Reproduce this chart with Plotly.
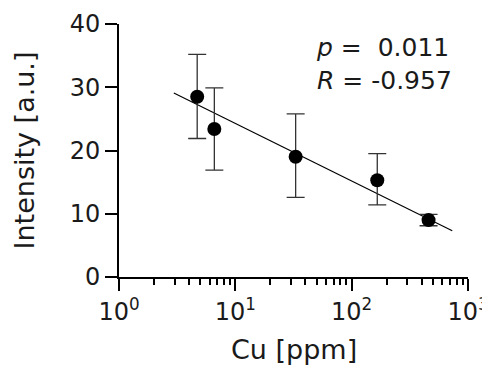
import plotly.graph_objects as go

# Data
cu_ppm = [4.7, 6.6, 33, 166, 458]
intensity = [28.5, 23.4, 19.0, 15.3, 9.0]
err_plus = [6.7, 6.5, 6.8, 4.2, 0.9]
err_minus = [6.6, 6.5, 6.4, 3.9, 0.9]

fit_x = [2.96, 732]
fit_y = [29.1, 7.3]

x_tickvals = [1, 10, 100, 1000]
x_ticktext = ["10<sup>0</sup>", "10<sup>1</sup>", "10<sup>2</sup>", "10<sup>3</sup>"]
x_minor = [m * d for d in (1, 10, 100) for m in range(2, 10)]
y_tickvals = [0, 10, 20, 30, 40]

stats_text = "<i>p</i> =\u00a0\u00a00.011<br><i>R</i> = -0.957"

FONT = "DejaVu Sans"
TXT = "#1a1a1a"

fig = go.Figure()
fig.add_trace(go.Scatter(
    x=fit_x, y=fit_y, mode="lines",
    line=dict(color="black", width=1.2),
    showlegend=False, hoverinfo="skip",
))
fig.add_trace(go.Scatter(
    x=cu_ppm, y=intensity, mode="markers",
    marker=dict(color="black", size=14),
    error_y=dict(type="data", symmetric=False, array=err_plus, arrayminus=err_minus,
                 color="#333333", thickness=1.3, width=9),
    showlegend=False,
))

# page body adds an 8px margin, so the figure is 8px smaller and margins shifted
fig.update_layout(
    width=482, height=363,
    margin=dict(l=111, r=22, t=16, b=94, autoexpand=False),
    plot_bgcolor="white", paper_bgcolor="white",
    font=dict(family=FONT, color=TXT, size=22),
    xaxis=dict(
        type="log", range=[0, 3], automargin=False,
        tickmode="array", tickvals=x_tickvals, ticktext=x_ticktext,
        ticks="outside", ticklen=12, tickwidth=2, tickcolor="black",
        showline=True, linewidth=2, linecolor="black",
        showgrid=False, zeroline=False,
        tickfont=dict(size=24, family=FONT, color=TXT),
        minor=dict(tickmode="array", tickvals=x_minor, ticks="outside",
                   ticklen=6, tickwidth=2, tickcolor="black", showgrid=False),
    ),
    yaxis=dict(
        range=[0, 40], automargin=False,
        tickmode="array", tickvals=y_tickvals,
        ticks="outside", ticklen=12, tickwidth=2, tickcolor="black",
        showline=True, linewidth=2, linecolor="black",
        showgrid=False, zeroline=False,
        tickfont=dict(size=24, family=FONT, color=TXT),
    ),
    annotations=[
        dict(text="Intensity [a.u.]", xref="paper", yref="paper", x=0, y=0.5,
             xshift=-95, xanchor="center", yanchor="middle", textangle=-90,
             showarrow=False, font=dict(size=27, family=FONT, color=TXT)),
        dict(text="Cu [ppm]", xref="paper", yref="paper", x=0.5, y=0,
             yshift=-72, xanchor="center", yanchor="middle",
             showarrow=False, font=dict(size=27, family=FONT, color=TXT)),
        dict(text=stats_text, xref="paper", yref="paper", x=0, y=1,
             xshift=306 - 111, yshift=-7, xanchor="left", yanchor="top", align="left",
             showarrow=False, font=dict(size=25, family=FONT, color=TXT)),
    ],
)

fig.write_html("out.html")
